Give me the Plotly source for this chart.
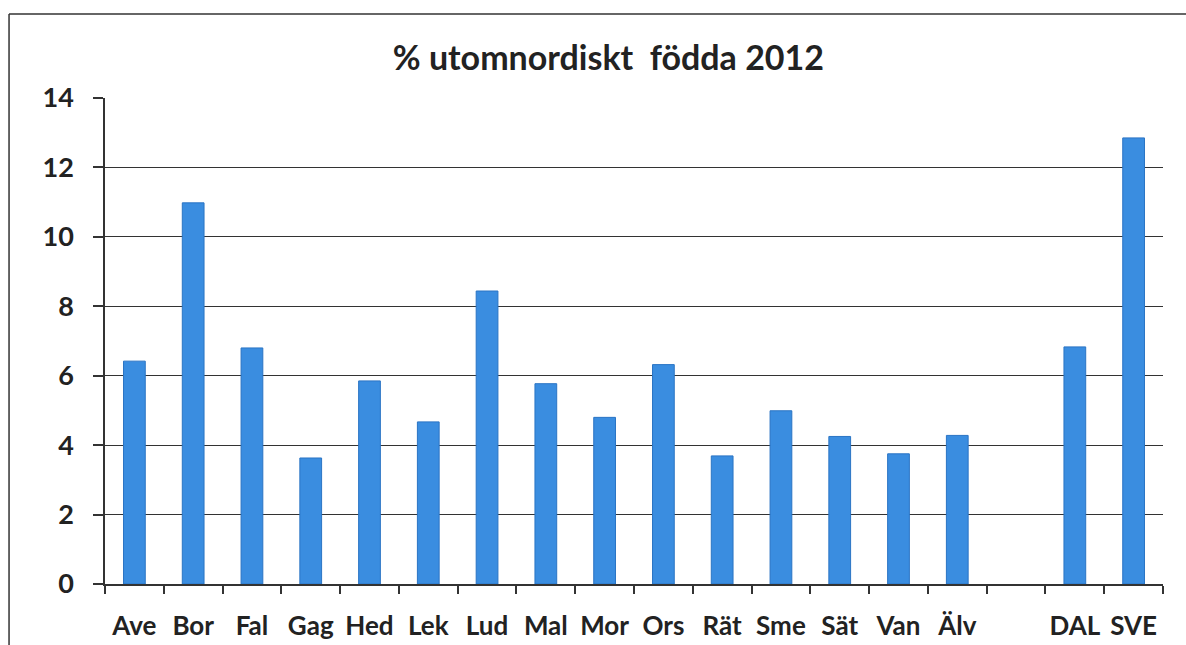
import plotly.graph_objects as go

categories = ["Ave", "Bor", "Fal", "Gag", "Hed", "Lek", "Lud", "Mal", "Mor", "Ors",
              "Rät", "Sme", "Sät", "Van", "Älv", " ", "DAL", "SVE"]
values = [6.42, 10.98, 6.8, 3.63, 5.85, 4.67, 8.44, 5.77, 4.8, 6.32,
          3.69, 4.99, 4.25, 3.75, 4.28, None, 6.83, 12.85]

title_text = "% utomnordiskt\u00a0\u00a0födda 2012"
font_family = "Lato, 'Open Sans', sans-serif"

fig = go.Figure()
fig.add_trace(go.Bar(
    x=categories, y=values,
    marker=dict(color="#3a8de0", line=dict(color="#2a74c4", width=1)),
    width=0.37,
))

fig.update_layout(
    width=1186, height=645,
    margin=dict(l=105, r=23, t=98, b=61, autoexpand=False),
    paper_bgcolor="white", plot_bgcolor="white",
    showlegend=False,
    title=dict(text=f"<b>{title_text}</b>", x=0.513, xanchor="center",
               y=0.91, yanchor="middle",
               font=dict(family=font_family, size=34, color="#222222")),
    font=dict(family=font_family, color="#222222"),
)

fig.update_xaxes(
    type="category", categoryorder="array", categoryarray=categories,
    showline=True, linecolor="#333333", linewidth=1.5,
    ticks="outside", tickson="boundaries", ticklen=8, tickcolor="#333333", tickwidth=1.5,
    showgrid=False, tickangle=0, automargin=False,
    tickfont=dict(family=font_family, size=26, color="#222222"),
    tickprefix="<b>", ticksuffix="</b>",
    ticklabelstandoff=18,
)
fig.update_yaxes(
    range=[0, 14], dtick=2, automargin=False,
    showline=True, linecolor="#333333", linewidth=1.5,
    ticks="outside", ticklen=10, tickcolor="#333333", tickwidth=1.5,
    showgrid=True, gridcolor="#333333", gridwidth=1,
    zeroline=False,
    tickfont=dict(family=font_family, size=27, color="#222222"),
    tickprefix="<b>", ticksuffix="</b>",
    ticklabelstandoff=14,
)

# outer chart border (left and top visible in scan)
fig.add_shape(type="line", xref="paper", yref="paper",
              x0=-0.0907, x1=-0.0907, y0=1.173, y1=-0.2,
              line=dict(color="#333333", width=1.5))
fig.add_shape(type="line", xref="paper", yref="paper",
              x0=-0.0907, x1=1.1, y0=1.173, y1=1.173,
              line=dict(color="#333333", width=1.5))

fig.write_html("out.html", config={"displayModeBar": False},
               post_script="document.body.style.margin='0';document.body.style.overflow='hidden';")
